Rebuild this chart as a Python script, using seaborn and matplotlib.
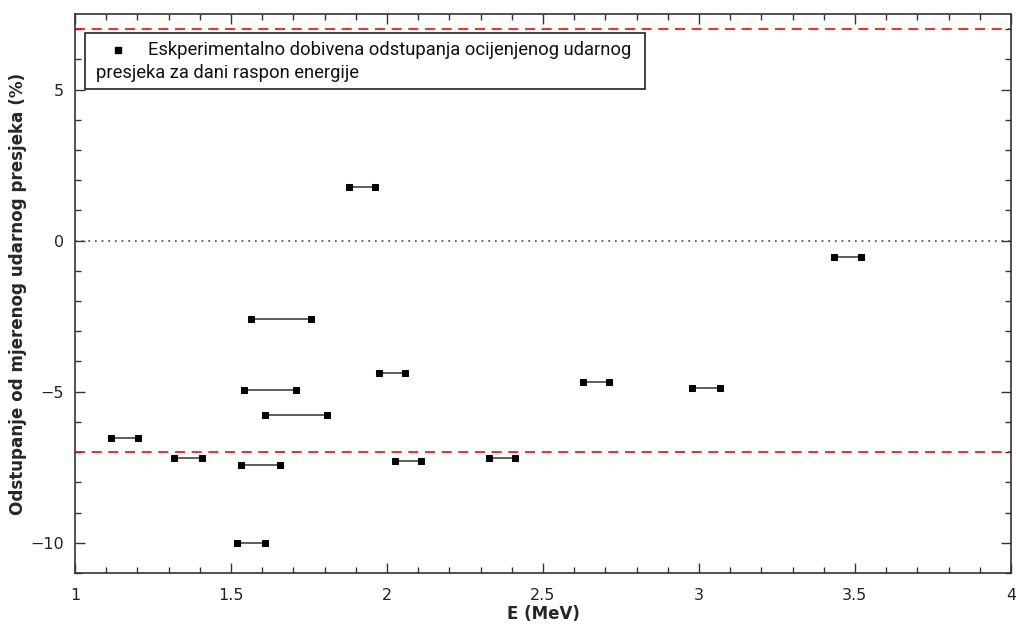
import pandas as pd
import seaborn as sns
import matplotlib.pyplot as plt
from matplotlib.ticker import MultipleLocator
from matplotlib.patches import Rectangle
from matplotlib import font_manager

# energy ranges (MeV) and deviation (%)
e_low = [1.115, 1.317, 1.531, 1.520, 1.564, 1.542, 1.609, 1.877, 1.973, 2.025, 2.327, 2.629, 2.979, 3.432]
e_high = [1.202, 1.406, 1.656, 1.609, 1.755, 1.707, 1.807, 1.962, 2.058, 2.109, 2.410, 2.713, 3.067, 3.519]
deviation = [-6.52, -7.21, -7.41, -10.0, -2.59, -4.93, -5.77, 1.79, -4.39, -7.30, -7.21, -4.69, -4.88, -0.53]
limit = 7
legend_lines = ["Eskperimentalno dobivena odstupanja ocijenjenog udarnog",
                "presjeka za dani raspon energije"]

rows = []
for i, (lo, hi, d) in enumerate(zip(e_low, e_high, deviation)):
    rows.append({"E": lo, "dev": d, "id": i})
    rows.append({"E": hi, "dev": d, "id": i})
df = pd.DataFrame(rows)

sns.set_style("ticks")
plt.rcParams['font.family'] = ['DejaVu Sans']

# narrower font for the legend text
names = {f.name for f in font_manager.fontManager.ttflist}
if "Liberation Sans Narrow" in names:
    leg_font = dict(family=["Liberation Sans Narrow", "DejaVu Sans"])
else:
    leg_font = dict(family=["Roboto", "DejaVu Sans"])

fig = plt.figure(figsize=(10.16, 6.25), dpi=100)
ax = fig.add_axes([0.0738, 0.0832, 0.9212, 0.8944])

sns.lineplot(data=df, x="E", y="dev", units="id", estimator=None, ax=ax,
             color="#333333", linewidth=1.1, marker="s", markersize=4.5,
             markerfacecolor="black", markeredgecolor="black", legend=False)

ax.axhline(limit, color="red", linestyle=(0, (6, 4)), linewidth=1.2)
ax.axhline(-limit, color="red", linestyle=(0, (6, 4)), linewidth=1.2)
ax.axhline(0, color="#444444", linestyle=(0, (1, 3)), linewidth=1.2)

ax.set_xlim(1, 4)
ax.set_ylim(-11, 7.5)
ax.xaxis.set_major_locator(MultipleLocator(0.5))
ax.xaxis.set_minor_locator(MultipleLocator(0.1))
ax.yaxis.set_major_locator(MultipleLocator(5))
ax.yaxis.set_minor_locator(MultipleLocator(1))
ax.xaxis.set_major_formatter(plt.FuncFormatter(lambda v, p: f"{v:g}"))
ax.yaxis.set_major_formatter(plt.FuncFormatter(lambda v, p: f"{v:g}".replace("-", "\u2212")))
ax.tick_params(which="both", direction="in", top=True, right=True, color="#333333",
               width=1, labelsize=11.5, labelcolor="#222222")
ax.tick_params(which="major", length=7)
ax.tick_params(axis="x", which="major", pad=11)
ax.tick_params(axis="y", which="major", pad=8)
ax.tick_params(which="minor", length=4)
for s in ax.spines.values():
    s.set_color("#333333")
    s.set_linewidth(1.2)

ax.set_xlabel("E (MeV)", fontsize=12, fontweight="bold", labelpad=1)
ax.set_ylabel("Odstupanje od mjerenog udarnog presjeka (%)", fontsize=12.1,
              fontweight="bold", labelpad=2)

# legend box drawn by hand so the second line wraps under the marker
ax.add_patch(Rectangle((0.0107, 0.866), 0.598, 0.1, transform=ax.transAxes,
                       facecolor="white", edgecolor="#222222", linewidth=1.2, zorder=5))
t1 = ax.text(0.078, 0.9356, legend_lines[0], transform=ax.transAxes, ha="left",
             va="center", fontsize=13.5, color="#111111", zorder=6, **leg_font)
t2 = ax.text(0.0224, 0.894, legend_lines[1], transform=ax.transAxes, ha="left",
             va="center", fontsize=13.5, color="#111111", zorder=6, **leg_font)
ax.plot([0.046], [0.9356], transform=ax.transAxes, marker="s", markersize=4.5,
        color="black", linestyle="none", zorder=6)

# scale legend text so the first line is as wide as in the original
fig.canvas.draw()
w = t1.get_window_extent().width
size = 13.5 * 483 / w
t1.set_fontsize(size)
t2.set_fontsize(size)

fig.savefig("out.png", dpi=100)
